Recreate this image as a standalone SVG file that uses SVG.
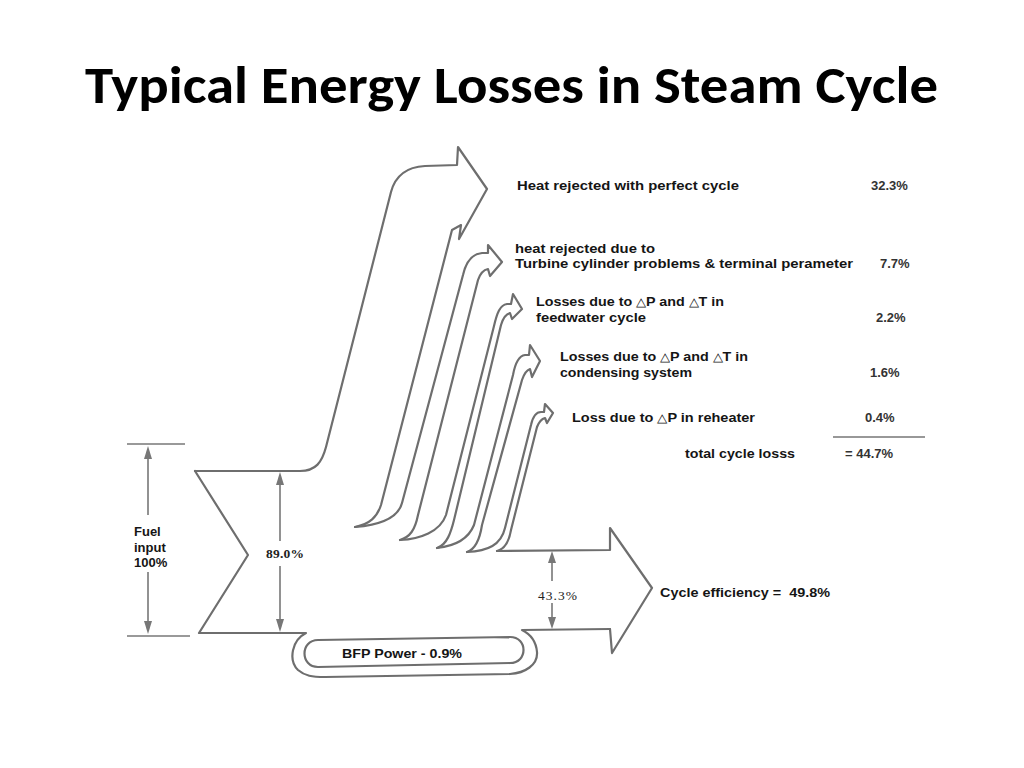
<svg xmlns="http://www.w3.org/2000/svg" width="1024" height="768" viewBox="0 0 1024 768">
<style>
.ln{fill:none;stroke:#6e6e6e;stroke-width:2.2;stroke-linejoin:round;stroke-linecap:round}
.dim{fill:none;stroke:#777;stroke-width:1.6}
.ah{fill:#777}
.t{font-family:"Liberation Sans",Arial,sans-serif;font-weight:bold;font-size:13px;fill:#151515}
.p{font-family:"Liberation Sans",Arial,sans-serif;font-weight:bold;font-size:13px;fill:#333}
.s{font-family:"Liberation Serif","Times New Roman",serif;font-size:13.5px;fill:#222}
.tri{font-weight:normal;font-size:12px}
.title{font-family:Carlito,"Liberation Sans",Arial,sans-serif;font-weight:bold;font-size:52px;fill:#000}
</style>
<rect width="1024" height="768" fill="#fff"/>
<text class="title" x="85" y="103" textLength="853" lengthAdjust="spacingAndGlyphs">Typical Energy Losses in Steam Cycle</text>

<g id="flows">
<g id="main-flow">
<path class="ln" d="M 195,471 L 248,555 L 199,633 L 306,633 C 292,640 288,660 298,670 C 305,676 312,677 325,677 L 510,674 C 525,673 538,665 537,652 C 536,640 530,634 522,630 L 610,629"/>
<path class="ln" d="M 195,471 L 300,471 C 316,471 322,462 326,447 L 391,192 C 395,177 405,167 425,166 L 457,165 L 458,147 L 487,189 L 459,239 L 461,225 L 452,230 L 381,505 C 377,517 370,524 355,527"/>
</g>
<g id="loss-turbine">
<path class="ln" d="M 355,527 C 380,525 398,518 402,503 L 463,275 C 466,262 472,254 482,253 L 488,253 L 488,245 L 502,262 L 490,276 L 488,269 C 483,270 480,274 478,280 L 418,515 C 415,530 410,537 400,540"/>
</g>
<g id="loss-feedwater">
<path class="ln" d="M 400,540 C 420,539 440,532 446,515 L 494,326 C 497,313 500,305 507,304 L 511,304 L 513,294 L 522,309 L 512,319 L 510,313 C 506,314 503,318 501,325 L 454,520 C 451,532 447,545 437,548"/>
</g>
<g id="loss-condensing">
<path class="ln" d="M 437,548 C 455,546 468,540 474,525 L 513,375 C 515,364 518,356 525,355 L 529,355 L 530,345 L 540,361 L 532,377 L 530,369 C 527,370 524,374 522,380 L 482,525 C 480,538 476,549 467,552"/>
</g>
<g id="loss-reheater">
<path class="ln" d="M 467,552 C 488,551 501,545 505,528 L 531,425 C 533,416 536,412 541,412 L 544,412 L 545,404 L 553,413 L 547,423 L 545,418 C 541,419 539,422 537,427 L 511,530 C 509,542 505,549 497,551"/>
</g>
<g id="efficiency-arrow">
<path class="ln" d="M 497,551 L 610,550 L 610,528 L 652,588 L 612,653 L 610,629"/>
</g>
<g id="bfp-loop">
<path class="ln" d="M 318,640 L 510,637 C 528,637 528,663 510,663 L 318,667 C 300,667 300,640 318,640 Z"/>
<text class="t" x="342" y="658" textLength="120" lengthAdjust="spacingAndGlyphs">BFP Power - 0.9%</text>
</g>
</g>

<g id="dimensions">
<line class="dim" x1="127" y1="444" x2="185" y2="444"/>
<line class="dim" x1="127" y1="636" x2="190" y2="636"/>
<line class="dim" x1="148" y1="450" x2="148" y2="515"/>
<line class="dim" x1="148" y1="572" x2="148" y2="630"/>
<polygon class="ah" points="148,446 144,459 152,459"/>
<polygon class="ah" points="148,634 144,621 152,621"/>
<line class="dim" x1="280" y1="476" x2="280" y2="541"/>
<line class="dim" x1="280" y1="566" x2="280" y2="628"/>
<polygon class="ah" points="280,472 276,485 284,485"/>
<polygon class="ah" points="280,632 276,619 284,619"/>
<line class="dim" x1="552" y1="555" x2="552" y2="581"/>
<line class="dim" x1="552" y1="603" x2="552" y2="625"/>
<polygon class="ah" points="552,551 548,563 556,563"/>
<polygon class="ah" points="552,629 548,617 556,617"/>
<line class="dim" x1="833" y1="437" x2="925" y2="437" style="stroke:#333;stroke-width:1.2"/>
</g>

<g id="labels">
<text class="t" x="134" y="536">Fuel</text>
<text class="t" x="134" y="552">input</text>
<text class="t" x="134" y="567">100%</text>
<text class="s" x="266" y="558" font-weight="bold" textLength="38">89.0%</text>
<text class="s" x="538" y="600" textLength="39">43.3%</text>
<text class="t" x="660" y="597" textLength="170" lengthAdjust="spacingAndGlyphs" xml:space="preserve">Cycle efficiency =  49.8%</text>

<text class="t" x="517" y="190" textLength="222" lengthAdjust="spacingAndGlyphs">Heat rejected with perfect cycle</text>
<text class="p" x="871" y="190">32.3%</text>
<text class="t" x="515" y="253" textLength="140" lengthAdjust="spacingAndGlyphs">heat rejected due to</text>
<text class="t" x="515" y="268" textLength="338" lengthAdjust="spacingAndGlyphs">Turbine cylinder problems &amp; terminal perameter</text>
<text class="p" x="880" y="268">7.7%</text>
<text class="t" x="536" y="306" textLength="188" lengthAdjust="spacingAndGlyphs">Losses due to <tspan class="tri">△</tspan>P and <tspan class="tri">△</tspan>T in</text>
<text class="t" x="536" y="322" textLength="110" lengthAdjust="spacingAndGlyphs">feedwater cycle</text>
<text class="p" x="876" y="322">2.2%</text>
<text class="t" x="560" y="361" textLength="188" lengthAdjust="spacingAndGlyphs">Losses due to <tspan class="tri">△</tspan>P and <tspan class="tri">△</tspan>T in</text>
<text class="t" x="560" y="377" textLength="132" lengthAdjust="spacingAndGlyphs">condensing system</text>
<text class="p" x="870" y="377">1.6%</text>
<text class="t" x="572" y="422" textLength="183" lengthAdjust="spacingAndGlyphs">Loss due to <tspan class="tri">△</tspan>P in reheater</text>
<text class="p" x="865" y="422">0.4%</text>
<text class="t" x="685" y="458" textLength="110" lengthAdjust="spacingAndGlyphs">total cycle losss</text>
<text class="p" x="845" y="458">= 44.7%</text>
</g>
</svg>
